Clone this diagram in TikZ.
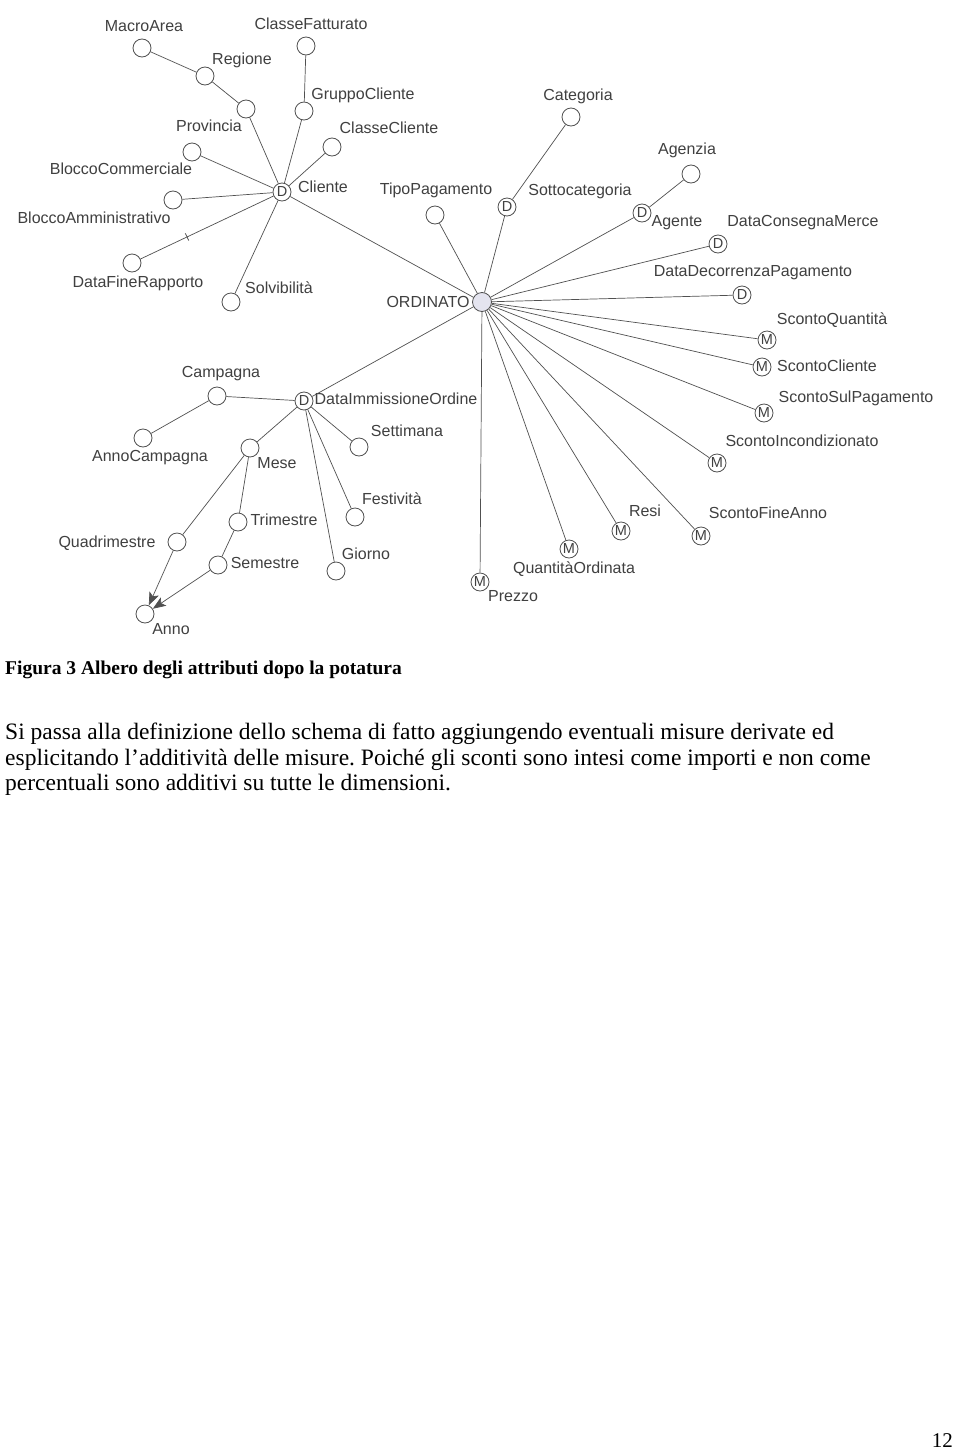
\documentclass[tikz,border=0pt]{standalone}
\usepackage{fontspec}
\setmainfont{Liberation Serif}
\newfontfamily\diagfont{Liberation Sans}
\usetikzlibrary{arrows.meta}
\definecolor{edgegray}{HTML}{505050}
\definecolor{labelgray}{HTML}{404040}
\definecolor{factfill}{HTML}{E4E4EF}
\frenchspacing

\begin{document}
\begin{tikzpicture}[x=1pt,y=-1pt,
    attr/.style={circle,draw=edgegray,fill=white,line width=.8pt,minimum size=18pt,inner sep=0pt,
                 font=\diagfont\fontsize{14.5}{14.5}\selectfont,text=labelgray},
    fact/.style={attr,fill=factfill,minimum size=19pt},
    attrlabel/.style={font=\diagfont\fontsize{16}{16}\selectfont,text=labelgray,inner sep=0pt,
                      text height=11.5pt,text depth=3.5pt},
    link/.style={draw=edgegray,line width=.7pt},
    rollup/.style={link,-{Stealth[length=13pt,width=10pt,inset=3pt]}},
    cut/.style={sloped,draw=edgegray,line width=.8pt,inner sep=0pt,minimum width=0pt,minimum height=8pt},
    bodytext/.style={font=\fontsize{23.5}{26}\selectfont,inner sep=0pt,anchor=base west}]

  \fill[white] (0,0) rectangle (960,1451);
  \useasboundingbox (0,0) rectangle (960,1451);

  % Fact
  \node[fact] (ordinato) at (482,302) {};
  \node[attrlabel] (ordinato-t) at (428,303) {ORDINATO};

  % Cliente hierarchy
  \node[attr] (cliente) at (282,192) {D};            \node[attrlabel] (cliente-t) at (323,188) {Cliente};
  \node[attr] (provincia) at (246,109) {};           \node[attrlabel] (provincia-t) at (209,127) {Provincia};
  \node[attr] (regione) at (205,76) {};              \node[attrlabel] (regione-t) at (242,60) {Regione};
  \node[attr] (macroarea) at (142,48) {};            \node[attrlabel] (macroarea-t) at (144,27) {MacroArea};
  \node[attr] (gruppocliente) at (304,111) {};       \node[attrlabel] (gruppocliente-t) at (363,95) {GruppoCliente};
  \node[attr] (classefatturato) at (306,46) {};      \node[attrlabel] (classefatturato-t) at (311,25) {ClasseFatturato};
  \node[attr] (classecliente) at (332,147) {};       \node[attrlabel] (classecliente-t) at (389,129) {ClasseCliente};
  \node[attr] (bloccocomm) at (192,152) {};          \node[attrlabel] (bloccocomm-t) at (121,170) {BloccoCommerciale};
  \node[attr] (bloccoamm) at (173,200) {};           \node[attrlabel] (bloccoamm-t) at (94,219) {BloccoAmministrativo};
  \node[attr] (datafine) at (132,263) {};            \node[attrlabel] (datafine-t) at (138,283) {DataFineRapporto};
  \node[attr] (solvibilita) at (231,302) {};         \node[attrlabel] (solvibilita-t) at (279,289) {Solvibilità};

  % Other dimensions
  \node[attr] (tipopagamento) at (435,215) {};       \node[attrlabel] (tipopagamento-t) at (436,190) {TipoPagamento};
  \node[attr] (sottocategoria) at (507,207) {D};     \node[attrlabel] (sottocategoria-t) at (580,191) {Sottocategoria};
  \node[attr] (categoria) at (571,117) {};           \node[attrlabel] (categoria-t) at (578,96) {Categoria};
  \node[attr] (agente) at (642,213) {D};             \node[attrlabel] (agente-t) at (677,222) {Agente};
  \node[attr] (agenzia) at (691,174) {};             \node[attrlabel] (agenzia-t) at (687,150) {Agenzia};
  \node[attr] (dataconsegna) at (718,244) {D};       \node[attrlabel] (dataconsegna-t) at (803,222) {DataConsegnaMerce};
  \node[attr] (datadecorrenza) at (742,295) {D};     \node[attrlabel] (datadecorrenza-t) at (753,272) {DataDecorrenzaPagamento};

  % Measures
  \node[attr] (scontoquantita) at (767,340) {M};     \node[attrlabel] (scontoquantita-t) at (832,320) {ScontoQuantità};
  \node[attr] (scontocliente) at (762,367) {M};      \node[attrlabel] (scontocliente-t) at (827,367) {ScontoCliente};
  \node[attr] (scontosulpag) at (764,413) {M};       \node[attrlabel] (scontosulpag-t) at (856,398) {ScontoSulPagamento};
  \node[attr] (scontoincond) at (717,463) {M};       \node[attrlabel] (scontoincond-t) at (802,442) {ScontoIncondizionato};
  \node[attr] (scontofineanno) at (701,536) {M};     \node[attrlabel] (scontofineanno-t) at (768,514) {ScontoFineAnno};
  \node[attr] (resi) at (621,531) {M};               \node[attrlabel] (resi-t) at (645,512) {Resi};
  \node[attr] (quantitaord) at (569,549) {M};        \node[attrlabel] (quantitaord-t) at (574,569) {QuantitàOrdinata};
  \node[attr] (prezzo) at (480,582) {M};             \node[attrlabel] (prezzo-t) at (513,597) {Prezzo};

  % Data immissione ordine hierarchy
  \node[attr] (dataimm) at (304,401) {D};            \node[attrlabel] (dataimm-t) at (396,400) {DataImmissioneOrdine};
  \node[attr] (campagna) at (217,396) {};            \node[attrlabel] (campagna-t) at (221,373) {Campagna};
  \node[attr] (annocampagna) at (143,438) {};        \node[attrlabel] (annocampagna-t) at (150,457) {AnnoCampagna};
  \node[attr] (settimana) at (359,447) {};           \node[attrlabel] (settimana-t) at (407,432) {Settimana};
  \node[attr] (mese) at (250,448) {};                \node[attrlabel] (mese-t) at (277,464) {Mese};
  \node[attr] (festivita) at (355,517) {};           \node[attrlabel] (festivita-t) at (392,500) {Festività};
  \node[attr] (trimestre) at (238,522) {};           \node[attrlabel] (trimestre-t) at (284,521) {Trimestre};
  \node[attr] (quadrimestre) at (177,542) {};        \node[attrlabel] (quadrimestre-t) at (107,543) {Quadrimestre};
  \node[attr] (semestre) at (218,565) {};            \node[attrlabel] (semestre-t) at (265,564) {Semestre};
  \node[attr] (giorno) at (336,571) {};              \node[attrlabel] (giorno-t) at (366,555) {Giorno};
  \node[attr] (anno) at (145,614) {};                \node[attrlabel] (anno-t) at (171,630) {Anno};

  % Edges
  \path[link]
    (macroarea) edge (regione)
    (regione) edge (provincia)
    (provincia) edge (cliente)
    (classefatturato) edge (gruppocliente)
    (gruppocliente) edge (cliente)
    (classecliente) edge (cliente)
    (bloccocomm) edge (cliente)
    (bloccoamm) edge (cliente)
    (cliente) edge node[cut,pos=.65] (cutmark) {} (datafine)
    (solvibilita) edge (cliente)
    (cliente) edge (ordinato)
    (tipopagamento) edge (ordinato)
    (categoria) edge (sottocategoria)
    (sottocategoria) edge (ordinato)
    (agenzia) edge (agente)
    (agente) edge (ordinato)
    (dataconsegna) edge (ordinato)
    (datadecorrenza) edge (ordinato)
    (scontoquantita) edge (ordinato)
    (scontocliente) edge (ordinato)
    (scontosulpag) edge (ordinato)
    (scontoincond) edge (ordinato)
    (scontofineanno) edge (ordinato)
    (resi) edge (ordinato)
    (quantitaord) edge (ordinato)
    (prezzo) edge (ordinato)
    (dataimm) edge (ordinato)
    (campagna) edge (dataimm)
    (annocampagna) edge (campagna)
    (dataimm) edge (settimana)
    (dataimm) edge (mese)
    (dataimm) edge (festivita)
    (dataimm) edge (giorno)
    (mese) edge (quadrimestre)
    (mese) edge (trimestre)
    (trimestre) edge (semestre);
  \draw[rollup] (quadrimestre) -- (anno);
  \draw[rollup] (semestre) -- (anno);

  % Caption and text
  \node[bodytext,font=\bfseries\fontsize{19.5}{22}\selectfont] (caption) at (5,674)
    {Figura 3 Albero degli attributi dopo la potatura};
  \node[bodytext] (line1) at (5,739)
    {Si passa alla definizione dello schema di fatto aggiungendo eventuali misure derivate ed};
  \node[bodytext] (line2) at (5,765)
    {esplicitando l’additività delle misure. Poiché gli sconti sono intesi come importi e non come};
  \node[bodytext] (line3) at (5,790)
    {percentuali sono additivi su tutte le dimensioni.};
  \node[bodytext,anchor=base east,font=\fontsize{21}{24}\selectfont] (pagenum) at (953,1447) {12};

\end{tikzpicture}
\end{document}
